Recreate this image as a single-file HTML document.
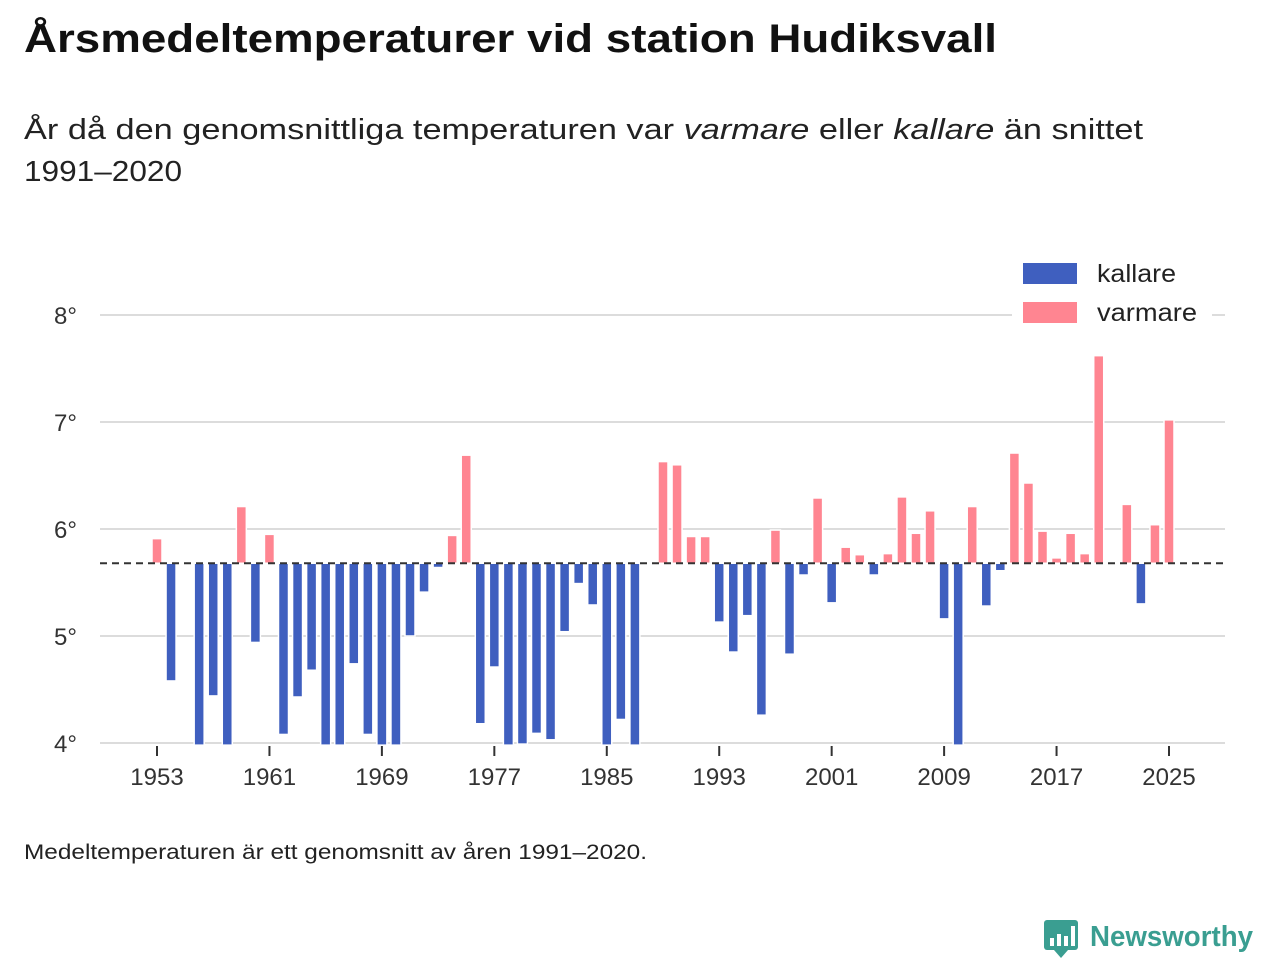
<!DOCTYPE html>
<html><head><meta charset="utf-8"><style>
body{margin:0;background:#fff;font-family:"Liberation Sans","DejaVu Sans",sans-serif;}
.wrap{position:relative;width:1280px;height:960px;overflow:hidden;}
</style></head><body>
<div class="wrap">
<svg width="1280" height="960">
<text x="24" y="52" font-size="40" font-weight="bold" fill="#111" textLength="973" lengthAdjust="spacingAndGlyphs">Årsmedeltemperaturer vid station Hudiksvall</text>
<text x="24" y="139" font-size="29" fill="#222" textLength="1119" lengthAdjust="spacingAndGlyphs">År då den genomsnittliga temperaturen var <tspan font-style="italic">varmare</tspan> eller <tspan font-style="italic">kallare</tspan> än snittet</text>
<text x="24" y="181" font-size="29" fill="#222" textLength="158" lengthAdjust="spacingAndGlyphs">1991–2020</text>
<g id="grid"></g>
<g id="bars"></g>
<g id="xaxis"></g>
<line id="baseline" stroke="#333" stroke-width="2" stroke-dasharray="7,5"/>
<g>
<rect x="1012" y="255" width="200" height="78" fill="#fff"/>
<rect x="1023" y="263" width="54" height="21" fill="#3f5fbf"/>
<text x="1097" y="282" font-size="25" fill="#222" textLength="79" lengthAdjust="spacingAndGlyphs">kallare</text>
<rect x="1023" y="302" width="54" height="21" fill="#ff8591"/>
<text x="1097" y="321" font-size="25" fill="#222" textLength="100" lengthAdjust="spacingAndGlyphs">varmare</text>
</g>
<text x="24" y="859" font-size="21" fill="#222" textLength="623" lengthAdjust="spacingAndGlyphs">Medeltemperaturen är ett genomsnitt av åren 1991–2020.</text>
<g>
<rect x="1044" y="920" width="34" height="30" rx="3" fill="#3a9e91"/>
<polygon points="1054,950 1068,950 1061,958" fill="#3a9e91"/>
<rect x="1050" y="938" width="4" height="8" fill="#fff"/><rect x="1057" y="934" width="4" height="12" fill="#fff"/><rect x="1064" y="936" width="4" height="10" fill="#fff"/><rect x="1071" y="926" width="4" height="20" fill="#fff"/>
<text x="1090" y="946" font-size="29" font-weight="bold" fill="#3a9e91" textLength="163" lengthAdjust="spacingAndGlyphs">Newsworthy</text>
</g>
</svg>
</div>
<script>
const years=[];for(let y=1953;y<=2025;y++)years.push(y);
const temps=[5.91,4.58,null,3.9,4.44,3.9,6.21,4.94,5.95,4.08,4.43,4.68,3.9,3.9,4.74,4.08,3.9,3.9,5.0,5.41,5.64,5.94,6.69,4.18,4.71,3.9,3.99,4.09,4.03,5.04,5.49,5.29,3.9,4.22,3.9,null,6.63,6.6,5.93,5.93,5.13,4.85,5.19,4.26,5.99,4.83,5.57,6.29,5.31,5.83,5.76,5.57,5.77,6.3,5.96,6.17,5.16,3.9,6.21,5.28,5.61,6.71,6.43,5.98,5.73,5.96,5.77,7.62,null,6.23,5.3,6.04,7.02];
const baselineValue=5.68;
const yTicks=[4,5,6,7,8];
const xTicks=[1953,1961,1969,1977,1985,1993,2001,2009,2017,2025];
const NS="http://www.w3.org/2000/svg";
const xS=y=>157+(y-1953)*(1012/72);
const yS=v=>743-(v-4)*107;
const X0=100,X1=1225;
function mk(t,a,p){const e=document.createElementNS(NS,t);for(const k in a)e.setAttribute(k,a[k]);p.appendChild(e);return e;}
const grid=document.getElementById('grid');
yTicks.forEach(v=>{
 const l=mk('line',{x1:X0,x2:X1,y1:yS(v),y2:yS(v),stroke:'#dcdcdc','stroke-width':2},grid);
 
 
 const t=mk('text',{x:54,y:yS(v)+9,'font-size':24,fill:'#333'},grid);
 t.textContent=v+'°';
 
 
});
const bars=document.getElementById('bars');
const by=yS(baselineValue);
years.forEach((yr,i)=>{
 const v=temps[i];if(v==null)return;
 const vc=Math.max(v,3.98);
 const top=Math.min(yS(vc),by),h=Math.abs(yS(vc)-by);
 const r=mk('rect',{x:xS(yr)-5,y:top,width:10,height:h,fill:v>=baselineValue?'#ff8591':'#3f5fbf',stroke:'#fff','stroke-width':1.5},bars);
 
 
});
const bl=document.getElementById('baseline');
bl.setAttribute('x1',X0);bl.setAttribute('x2',X1);bl.setAttribute('y1',by);bl.setAttribute('y2',by);
const xa=document.getElementById('xaxis');
xTicks.forEach(yr=>{
 const l=mk('line',{x1:xS(yr),x2:xS(yr),y1:746,y2:756,stroke:'#333','stroke-width':2},xa);
 
 
 const t=mk('text',{x:xS(yr),y:785,'font-size':24,fill:'#333','text-anchor':'middle'},xa);
 t.textContent=yr;
 
 
});
</script>
</body></html>
